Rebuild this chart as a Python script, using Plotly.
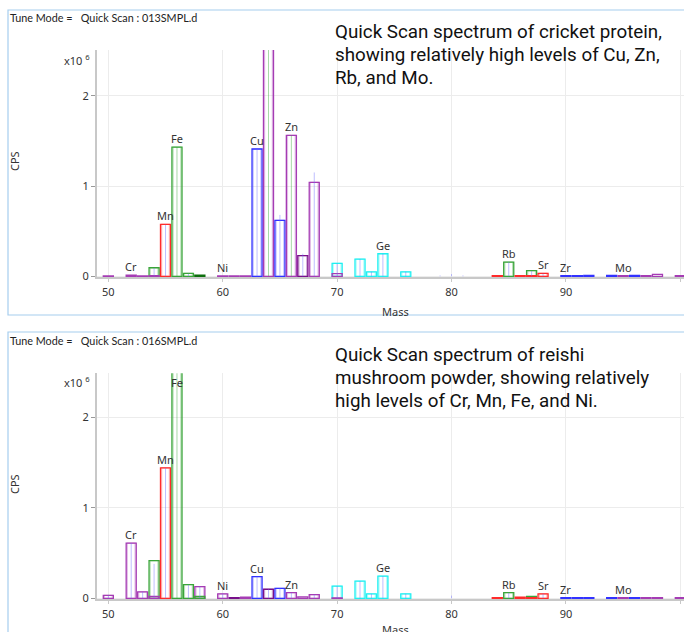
import plotly.graph_objects as go

# ---------------- data (CPS in units of 1e6) ----------------
masses = [50, 52, 53, 54, 55, 56, 57, 58, 60, 61, 62, 63, 64, 65, 66, 67, 68,
          70, 72, 73, 74, 76, 84, 85, 86, 87, 88, 90, 91, 92, 94, 95, 96, 97, 98, 100]

cricket_cps = [0.004, 0.012, 0.004, 0.095, 0.576, 1.43, 0.033, 0.014, 0.004, 0.004, 0.004,
               1.41, 4.0, 0.62, 1.56, 0.23, 1.04,
               0.144, 0.19, 0.05, 0.25, 0.05, 0.006, 0.158, 0.006, 0.062, 0.033,
               0.006, 0.006, 0.01, 0.01, 0.006, 0.01, 0.006, 0.022, 0.006]
cricket_colors = ["purple", "purple", "purple", "green", "red", "green", "green", "darkgreen",
                  "purple", "purple", "purple", "blue", "purple", "blue", "purple", "darkpurple", "purple",
                  "cyan", "cyan", "cyan", "cyan", "cyan", "red", "green", "red", "green", "red",
                  "blue", "blue", "blue", "blue", "purple", "blue", "purple", "purple", "purple"]

reishi_cps = [0.033, 0.61, 0.07, 0.415, 1.44, 6.0, 0.15, 0.13, 0.05, 0.006, 0.012,
              0.24, 0.10, 0.11, 0.062, 0.015, 0.04,
              0.135, 0.19, 0.05, 0.245, 0.05, 0.006, 0.062, 0.012, 0.022, 0.05,
              0.006, 0.006, 0.006, 0.008, 0.006, 0.008, 0.006, 0.006, 0.006]
reishi_colors = ["purple", "purple", "purple", "green", "red", "green", "green", "purple",
                 "purple", "darkpurple", "purple", "blue", "darkpurple", "blue", "purple", "purple", "purple",
                 "cyan", "cyan", "cyan", "cyan", "cyan", "red", "green", "red", "green", "red",
                 "blue", "blue", "blue", "blue", "purple", "blue", "purple", "purple", "purple"]

# overlapping second isotopes drawn at same mass
cricket_overlap_mass = [54, 70, 87]
cricket_overlap_cps = [0.006, 0.03, 0.008]
cricket_overlap_colors = ["purple", "purple", "red"]
reishi_overlap_mass = [54, 58, 70, 87]
reishi_overlap_cps = [0.02, 0.02, 0.005, 0.008]
reishi_overlap_colors = ["purple", "green", "purple", "red"]

# profile (raw scan) lines inside the bars
cricket_profile_mass = [54, 55, 56, 57, 63, 64, 65, 66, 67, 68, 70, 72, 73, 74, 76, 79, 80, 81, 85, 87, 88]
cricket_profile_cps = [0.09, 0.57, 1.43, 0.03, 1.41, 4.0, 0.68, 1.56, 0.25, 1.15, 0.14, 0.19, 0.05,
                       0.25, 0.05, 0.01, 0.025, 0.01, 0.158, 0.06, 0.03]
cricket_profile_kind = ["b", "b", "g", "b", "b", "g", "b", "g", "b", "b", "b", "b", "b",
                        "b", "b", "b", "b", "b", "b", "b", "b"]
reishi_profile_mass = [50, 52, 53, 54, 55, 56, 57, 58, 60, 63, 64, 65, 66, 68, 70, 72, 73, 74, 76, 80, 85, 88]
reishi_profile_cps = [0.03, 0.61, 0.07, 0.38, 1.44, 6.0, 0.15, 0.13, 0.05, 0.24, 0.10, 0.11, 0.06, 0.04,
                      0.135, 0.19, 0.05, 0.245, 0.05, 0.03, 0.062, 0.05]
reishi_profile_kind = ["b", "b", "b", "b", "b", "g", "b", "b", "b", "b", "b", "b", "b", "b",
                       "b", "b", "b", "b", "b", "b", "b", "b"]

label_elements = ["Cr", "Mn", "Fe", "Ni", "Cu", "Zn", "Ge", "Rb", "Sr", "Zr", "Mo"]
label_masses = [52, 55, 56, 60, 63, 66, 74, 85, 88, 90, 95]

y_tick_vals = [0, 1, 2]
y_tick_text = ["0", "1", "2"]
x_tick_vals = [50, 60, 70, 80, 90, 100]

header_1 = "Tune Mode =\u00a0\u00a0 Quick Scan : 013SMPL.d"
header_2 = "Tune Mode =\u00a0\u00a0 Quick Scan : 016SMPL.d"
note_1 = ["Quick Scan spectrum of cricket protein,", "showing relatively high levels of Cu, Zn,",
          "Rb, and Mo."]
note_2 = ["Quick Scan spectrum of reishi", "mushroom powder, showing relatively",
          "high levels of Cr, Mn, Fe, and Ni."]

# ---------------- styling ----------------
PALETTE = {"purple": "#a53cb4", "darkpurple": "#78108a", "blue": "#3232ff",
           "green": "#3aa53a", "darkgreen": "#0c6e0c", "red": "#ff2b2b", "cyan": "#1ff0f2"}
PALE = {"purple": "rgba(165,60,180,0.35)", "darkpurple": "rgba(120,16,138,0.35)",
        "blue": "rgba(50,50,255,0.3)", "green": "rgba(58,165,58,0.35)",
        "darkgreen": "rgba(12,110,12,0.35)", "red": "rgba(255,43,43,0.35)",
        "cyan": "rgba(31,240,242,0.35)"}
PROFILE = {"b": "rgba(110,110,255,0.45)", "g": "rgba(60,170,60,0.45)"}

W, H = 684, 632
XR = [49.01, 100.32]
panels = [
    dict(cps=cricket_cps, colors=cricket_colors, om=cricket_overlap_mass, oc=cricket_overlap_cps,
         ocol=cricket_overlap_colors, pm=cricket_profile_mass, pc=cricket_profile_cps,
         pk=cricket_profile_kind, ytop=2.506, dom=[(632 - 277.4) / 632, (632 - 50) / 632],
         header=header_1, note=note_1, frame_top=10, frame_bot=315, head_y=17, note_y=32,
         cps_y=161, mass_y=311, x10_y=60),
    dict(cps=reishi_cps, colors=reishi_colors, om=reishi_overlap_mass, oc=reishi_overlap_cps,
         ocol=reishi_overlap_colors, pm=reishi_profile_mass, pc=reishi_profile_cps,
         pk=reishi_profile_kind, ytop=2.483, dom=[(632 - 599.4) / 632, (632 - 373.3) / 632],
         header=header_2, note=note_2, frame_top=332, frame_bot=700, head_y=340, note_y=355,
         cps_y=484, mass_y=629, x10_y=382),
]

fig = go.Figure()
annotations = []
shapes = []
BAR_W = 0.88

for i, p in enumerate(panels):
    xa = "x" if i == 0 else "x2"
    ya = "y" if i == 0 else "y2"
    # outline bars
    fig.add_trace(go.Bar(x=masses, y=p["cps"], width=BAR_W, xaxis=xa, yaxis=ya,
                         marker=dict(color="rgba(255,255,255,0)",
                                     line=dict(color=[PALETTE[c] for c in p["colors"]], width=1.3)),
                         hoverinfo="x+y", showlegend=False))
    # pale inner stroke
    im = [m for m, v in zip(masses, p["cps"]) if v > 0.03]
    iv = [v for v in p["cps"] if v > 0.03]
    ic = [PALE[c] for c, v in zip(p["colors"], p["cps"]) if v > 0.03]
    fig.add_trace(go.Bar(x=im, y=iv, width=BAR_W - 0.2, xaxis=xa, yaxis=ya,
                         marker=dict(color="rgba(255,255,255,0)", line=dict(color=ic, width=1.2)),
                         hoverinfo="skip", showlegend=False))
    # overlapping isotopes
    fig.add_trace(go.Bar(x=p["om"], y=p["oc"], width=BAR_W, xaxis=xa, yaxis=ya,
                         marker=dict(color="rgba(255,255,255,0)",
                                     line=dict(color=[PALETTE[c] for c in p["ocol"]], width=1.3)),
                         hoverinfo="x+y", showlegend=False))
    # profile lines
    for kind in ["b", "g"]:
        lx, ly = [], []
        for m, v, k in zip(p["pm"], p["pc"], p["pk"]):
            if k == kind:
                lx += [m, m, None]
                ly += [0, v, None]
        fig.add_trace(go.Scatter(x=lx, y=ly, mode="lines", xaxis=xa, yaxis=ya,
                                 line=dict(color=PROFILE[kind], width=1),
                                 hoverinfo="skip", showlegend=False))
    # element labels
    for el, m in zip(label_elements, label_masses):
        v = p["cps"][masses.index(m)]
        if v < p["ytop"]:
            annotations.append(dict(x=m, y=v, xref=xa, yref=ya, text=el, showarrow=False,
                                    xanchor="center", yanchor="bottom", yshift=-1,
                                    font=dict(family="Noto Sans", size=11, color="#333")))
        else:
            annotations.append(dict(x=m, y=p["ytop"], xref=xa, yref=ya, text=el, showarrow=False,
                                    xanchor="center", yanchor="top", yshift=0,
                                    font=dict(family="Noto Sans", size=11, color="#333")))
    # header / notes / axis titles
    annotations.append(dict(x=8 / W, y=1 - p["head_y"] / H, xref="paper", yref="paper",
                            text=p["header"], showarrow=False, xanchor="left", yanchor="middle",
                            font=dict(family="Lato", size=10.8, color="#222")))
    for j, line in enumerate(p["note"]):
        annotations.append(dict(x=333 / W, y=1 - (p["note_y"] + 23 * j) / H, xref="paper", yref="paper",
                                text=line, showarrow=False, xanchor="left", yanchor="middle",
                                font=dict(family="Roboto", size=18.8, color="#111")))
    annotations.append(dict(x=14 / W, y=1 - p["cps_y"] / H, xref="paper", yref="paper",
                            text="CPS", showarrow=False, textangle=-90,
                            xanchor="center", yanchor="middle",
                            font=dict(family="Noto Sans", size=11, color="#333")))
    annotations.append(dict(x=395 / W, y=1 - p["mass_y"] / H, xref="paper", yref="paper",
                            text="Mass", showarrow=False, xanchor="center", yanchor="middle",
                            font=dict(family="Noto Sans", size=11, color="#333")))
    annotations.append(dict(x=92 / W, y=1 - p["x10_y"] / H, xref="paper", yref="paper",
                            text="x10 <sup>6</sup>", showarrow=False, xanchor="right", yanchor="middle",
                            font=dict(family="Noto Sans", size=11, color="#333")))
    # frame
    shapes.append(dict(type="rect", xref="paper", yref="paper", x0=8 / W, x1=1.05,
                       y0=1 - p["frame_bot"] / H, y1=1 - p["frame_top"] / H,
                       line=dict(color="#a6cdee", width=1.2)))

axis_common = dict(range=XR, tickvals=x_tick_vals, showgrid=True, gridcolor="#ececec",
                   showline=True, linecolor="#c8c8c8", linewidth=2, ticks="outside",
                   ticklen=3, tickcolor="#c8c8c8", layer="below traces", zeroline=False,
                   tickfont=dict(family="Noto Sans", size=11, color="#333"), fixedrange=True)
yaxis_common = dict(tickvals=y_tick_vals, ticktext=y_tick_text, showgrid=True, gridcolor="#ececec",
                    showline=True, linecolor="#c8c8c8", linewidth=2, ticks="outside",
                    ticklen=4, tickcolor="#999", zeroline=False, layer="below traces",
                    tickfont=dict(family="Noto Sans", size=11, color="#333"), fixedrange=True)

fig.update_layout(
    width=W, height=H, autosize=False, margin=dict(l=0, r=0, t=0, b=0, autoexpand=False),
    paper_bgcolor="white", plot_bgcolor="white", barmode="overlay", showlegend=False,
    xaxis=dict(domain=[97 / W, 1], anchor="y", **axis_common),
    yaxis=dict(domain=panels[0]["dom"], range=[-0.012, panels[0]["ytop"]], anchor="x", **yaxis_common),
    xaxis2=dict(domain=[97 / W, 1], anchor="y2", **axis_common),
    yaxis2=dict(domain=panels[1]["dom"], range=[-0.012, panels[1]["ytop"]], anchor="x2", **yaxis_common),
    annotations=annotations, shapes=shapes,
)

fig.write_html("out.html",
               config={"responsive": False, "displayModeBar": False},
               post_script="document.body.style.margin='0';document.body.style.overflow='hidden';")
